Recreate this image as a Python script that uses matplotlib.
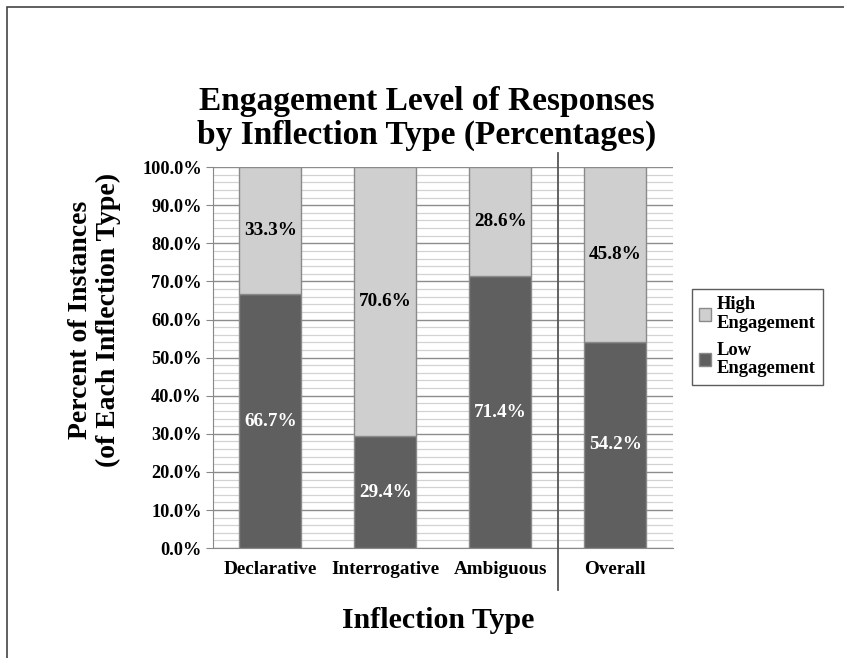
import matplotlib.pyplot as plt
import matplotlib.transforms as mtransforms
from matplotlib.patches import Rectangle
from matplotlib.legend_handler import HandlerPatch
import numpy as np

plt.rcParams['font.family'] = ['Liberation Serif', 'DejaVu Serif']
plt.rcParams['font.weight'] = 'bold'

categories = ['Declarative', 'Interrogative', 'Ambiguous', 'Overall']
low_engagement = [66.7, 29.4, 71.4, 54.2]
high_engagement = [33.3, 70.6, 28.6, 45.8]

dark = '#5f5f5f'
light = '#d0cfd0'
edge = '#8a8a8a'

fig = plt.figure(figsize=(8.45, 6.58), dpi=100)
fig.patches.append(Rectangle((7 / 845, -0.1), 1.2, 1 - 7 / 658 + 0.1,
                             transform=fig.transFigure, fill=False,
                             edgecolor='#444444', linewidth=1.2))

ax = fig.add_axes([0.252, 0.167, 0.544, 0.579])
x = np.arange(len(categories))
ax.bar(x, low_engagement, width=0.54, color=dark, edgecolor=edge,
       linewidth=1, label='Low\nEngagement', zorder=3)
ax.bar(x, high_engagement, width=0.54, bottom=low_engagement, color=light,
       edgecolor=edge, linewidth=1, label='High\nEngagement', zorder=3)

for i in range(len(categories)):
    ax.text(x[i], low_engagement[i] / 2, f'{low_engagement[i]:.1f}%',
            ha='center', va='center', color='white', fontsize=13.8,
            fontweight='bold', zorder=4)
    ax.text(x[i], low_engagement[i] + high_engagement[i] / 2,
            f'{high_engagement[i]:.1f}%', ha='center', va='center',
            color='black', fontsize=13.8, fontweight='bold', zorder=4)

ax.set_xlim(-0.5, 3.5)
ax.set_ylim(0, 100)
ax.set_yticks(np.arange(0, 101, 10))
ax.set_yticklabels([f'{v:.1f}%' for v in range(0, 101, 10)], fontsize=13.2,
                   fontweight='bold')
ax.set_yticks(np.arange(0, 101, 2), minor=True)
ax.tick_params(axis='y', which='minor', length=0)
ax.tick_params(axis='y', which='major', length=5, color='#888888', pad=3)
ax.tick_params(axis='x', length=0, pad=9)
ax.set_xticks(x)
ax.set_xticklabels(categories, fontsize=13.8, fontweight='bold')
ax.grid(axis='y', which='major', color='#8c8c8c', linewidth=1, zorder=0)
ax.grid(axis='y', which='minor', color='#d2d2d2', linewidth=0.9, zorder=0)
ax.set_axisbelow(True)
for side in ['top', 'right']:
    ax.spines[side].set_visible(False)
ax.spines['left'].set_color('#888888')
ax.spines['bottom'].set_color('#888888')

trans = mtransforms.blended_transform_factory(ax.transData, ax.transAxes)
ax.plot([2.5, 2.5], [-0.11, 1.037], transform=trans, color='#555555',
        linewidth=1.3, clip_on=False, zorder=5)

ax.set_xlabel('Inflection Type', fontsize=21.5, fontweight='bold')
ax.xaxis.set_label_coords(0.49, -0.155)
ax.set_ylabel('Percent of Instances\n(of Each Inflection Type)', fontsize=20,
              fontweight='bold', linespacing=1.15)
ax.yaxis.set_label_coords(-0.2, 0.6)

fig.text(0.505, 0.82, 'Engagement Level of Responses\nby Inflection Type (Percentages)',
         ha='center', va='center', fontsize=24, fontweight='bold',
         linespacing=1.15)


def top_square(legend, orig_handle, xdescent, ydescent, width, height, fontsize):
    s = fontsize * 0.62
    return Rectangle((-xdescent, -ydescent + fontsize * 1.3), s, s)


handles, labels = ax.get_legend_handles_labels()
leg = fig.legend(handles[::-1], labels[::-1], loc='upper left',
                 bbox_to_anchor=(692 / 845, 1 - 289 / 658), borderaxespad=0,
                 fontsize=13.3, frameon=True, fancybox=False, edgecolor='#333333',
                 handlelength=0.65, handleheight=0.7, handletextpad=0.3,
                 borderpad=0.4, labelspacing=0.55,
                 handler_map={Rectangle: HandlerPatch(patch_func=top_square)})
leg.get_frame().set_linewidth(1)
for t in leg.get_texts():
    t.set_fontweight('bold')
    t.set_linespacing(1.1)

fig.savefig('out.png', dpi=100)
